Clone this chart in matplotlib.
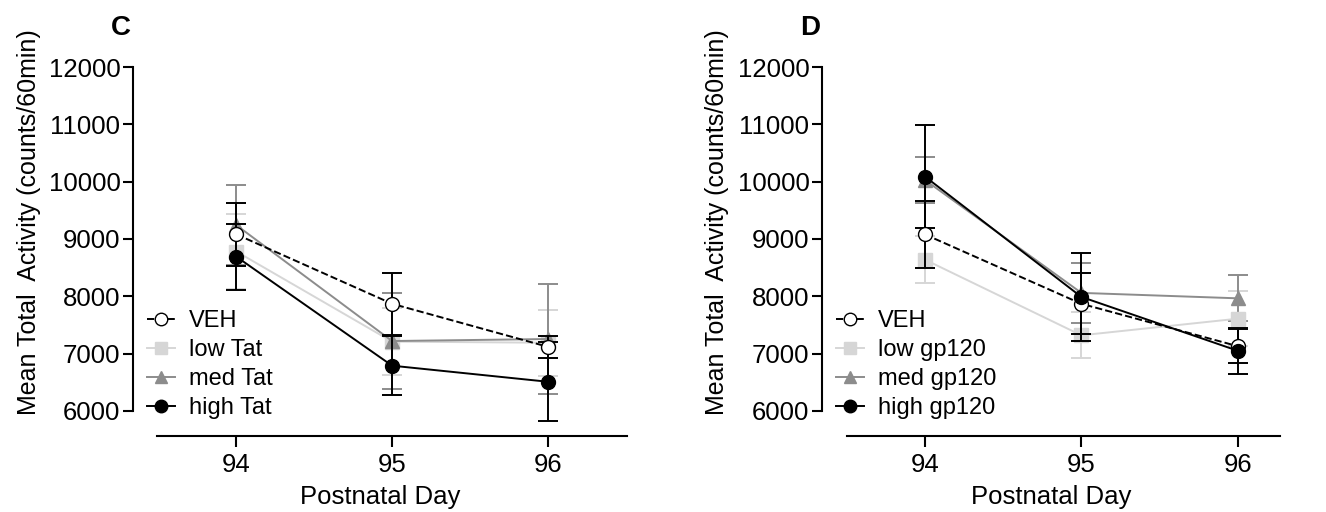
import matplotlib
matplotlib.use("Agg")
import matplotlib.pyplot as plt
from matplotlib.lines import Line2D

plt.rcParams["font.family"] = ["Liberation Sans", "DejaVu Sans"]

days = [94, 95, 96]
groups = ["VEH", "low", "med", "high"]

# panel C (Tat)
tat_mean = {
    "VEH": [9080, 7870, 7120],
    "low": [8780, 7210, 7190],
    "med": [9240, 7220, 7255],
    "high": [8690, 6790, 6510],
}
tat_err = {
    "VEH": [550, 540, 195],
    "low": [650, 580, 580],
    "med": [700, 830, 960],
    "high": [580, 510, 690],
}

# panel D (gp120)
gp_mean = {
    "VEH": [9080, 7870, 7130],
    "low": [8640, 7320, 7610],
    "med": [10030, 8060, 7965],
    "high": [10090, 7990, 7050],
}
gp_err = {
    "VEH": [580, 535, 300],
    "low": [410, 400, 480],
    "med": [400, 520, 400],
    "high": [890, 770, 400],
}

styles = {
    "VEH": dict(color="black", ls="--", marker="o", mfc="white", mec="black"),
    "low": dict(color="#d6d6d6", ls="-", marker="s", mfc="#d6d6d6", mec="#d6d6d6"),
    "med": dict(color="#8c8c8c", ls="-", marker="^", mfc="#8c8c8c", mec="#8c8c8c"),
    "high": dict(color="black", ls="-", marker="o", mfc="black", mec="black"),
}


def draw(ax, means, errs, names, letter, xlim, xstart, ylab_x):
    handles = []
    for g in groups:
        st = styles[g]
        ax.errorbar(days, means[g], yerr=errs[g], color=st["color"], ls=st["ls"],
                    marker=st["marker"], mfc=st["mfc"], mec=st["mec"], ms=10,
                    lw=1.4, elinewidth=1.4, capsize=7, capthick=1.4,
                    zorder=3 if g in ("VEH", "high") else 2)
        handles.append(Line2D([], [], color=st["color"], ls=st["ls"], lw=1.4,
                              marker=st["marker"], mfc=st["mfc"], mec=st["mec"],
                              ms=9, label=names[g]))
    ax.set_xlim(*xlim)
    ax.set_ylim(5563, 12000)
    ax.set_xticks(days)
    ax.set_yticks(range(6000, 12001, 1000))
    ax.spines["top"].set_visible(False)
    ax.spines["right"].set_visible(False)
    ax.spines["left"].set_bounds(6000, 12000)
    ax.spines["bottom"].set_bounds(xstart, xlim[1])
    for s in ("left", "bottom"):
        ax.spines[s].set_linewidth(1.5)
    ax.tick_params(labelsize=18.5, width=1.5, length=7)
    ax.tick_params(axis="x", length=8, pad=4)
    ax.tick_params(axis="y", pad=2)
    ax.set_xlabel("Postnatal Day", fontsize=18.5, labelpad=6)
    ax.set_ylabel("Mean Total  Activity (counts/60min)", fontsize=18)
    ax.yaxis.set_label_coords(ylab_x, 0.58)
    ax.legend(handles=handles, loc="lower left", bbox_to_anchor=(-0.006, 0.0),
              frameon=False, fontsize=17, handlelength=1.2, handletextpad=0.6,
              labelspacing=0.3, borderpad=0.2)
    ax.text(-0.025, 1.107, letter, transform=ax.transAxes, fontsize=20,
            fontweight="bold", ha="center", va="center")


fig = plt.figure(figsize=(13.26, 5.12), dpi=100)
axc = fig.add_axes([0.1003, 0.1484, 0.3726, 0.7207])
axd = fig.add_axes([0.6199, 0.1484, 0.3454, 0.7207])

draw(axc, tat_mean, tat_err,
     {"VEH": "VEH", "low": "low Tat", "med": "med Tat", "high": "high Tat"},
     "C", (93.335, 96.51), 93.49, -0.187)
draw(axd, gp_mean, gp_err,
     {"VEH": "VEH", "low": "low gp120", "med": "med gp120", "high": "high gp120"},
     "D", (93.342, 96.27), 93.50, -0.204)

fig.savefig("out.png", dpi=100)
